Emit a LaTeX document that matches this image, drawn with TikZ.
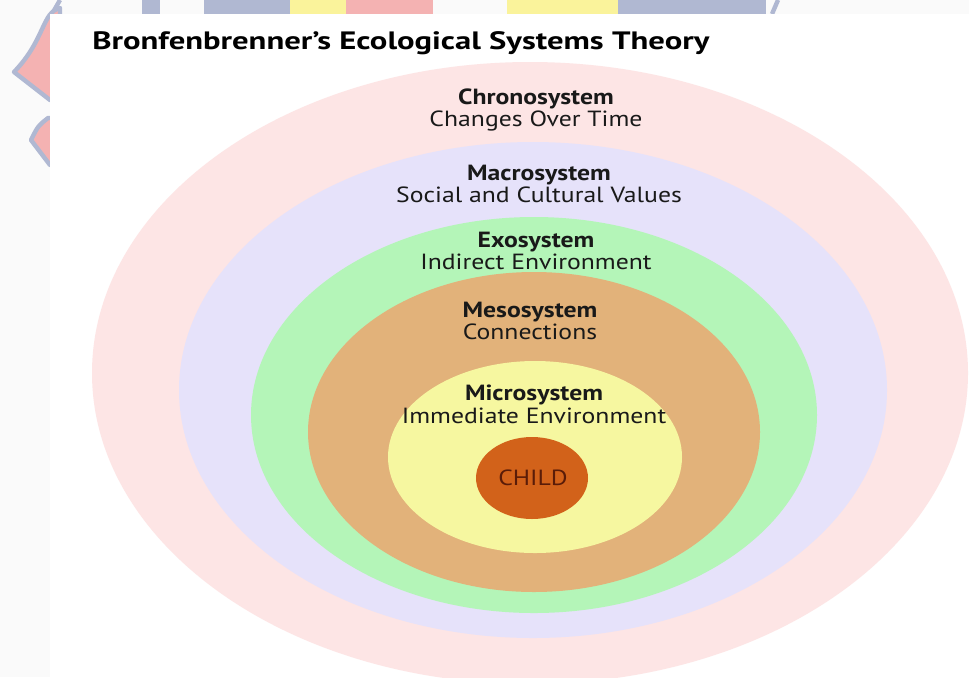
\documentclass[tikz,border=0pt]{standalone}
\usepackage{fontspec}
\setmainfont{PT Sans}[FakeStretch=1.17]
\newfontfamily\titlefont{PT Sans}[FakeStretch=1.3]
\usetikzlibrary{positioning}

\definecolor{chronopink}{RGB}{253,229,229}
\definecolor{macrolilac}{RGB}{230,226,250}
\definecolor{exogreen}{RGB}{180,245,184}
\definecolor{mesotan}{RGB}{226,178,122}
\definecolor{microyellow}{RGB}{246,247,160}
\definecolor{childorange}{RGB}{210,98,26}
\definecolor{childtext}{RGB}{90,28,8}
\definecolor{markgray}{RGB}{176,184,210}
\definecolor{markpink}{RGB}{244,178,178}
\definecolor{markyellow}{RGB}{250,243,155}
\definecolor{pagegray}{RGB}{250,250,250}

\begin{document}
\begin{tikzpicture}[x=0.02cm, y=-0.02cm,
  layer/.style={align=center, inner sep=0pt, text=black!90,
    font=\fontsize{12.5}{13}\selectfont},
  logoblob/.style={fill=markpink, draw=markgray, line width=2.5pt, line join=round}]
  \useasboundingbox (0,0) rectangle (969,677);
  \clip (0,0) rectangle (969,677);
  \fill[pagegray] (0,0) rectangle (969,677);

  % faded logo peeking out behind the sheet
  \fill[markgray] (142,0) rectangle (160,14);
  \fill[markgray] (204,0) rectangle (290,14);
  \fill[markyellow] (290,0) rectangle (346,14);
  \fill[markpink] (346,0) rectangle (433,14);
  \fill[markyellow] (507,0) rectangle (618,14);
  \fill[markgray] (618,0) rectangle (766,14);
  \draw[markgray, line width=2.5pt] (52,14) -- (60,0);
  \draw[markgray, line width=2.5pt] (772,14) -- (778,0);
  \draw[logoblob] (60,8) .. controls (42,12) and (45,40) .. (14,72)
    -- (50,100) -- (60,100) -- cycle;
  \draw[logoblob] (60,118) -- (48,118) .. controls (38,126) .. (31,140)
    -- (50,165) -- (60,165) -- cycle;

  % the sheet
  \fill[white] (50,14) rectangle (969,677);

  % nested systems, outermost first
  \fill[chronopink]  (530,373) ellipse [x radius=438, y radius=311];
  \fill[macrolilac]  (533,390) ellipse [x radius=354, y radius=248];
  \fill[exogreen]    (534,415) ellipse [x radius=283, y radius=198];
  \fill[mesotan]     (534,432) ellipse [x radius=226, y radius=160];
  \fill[microyellow] (535,457) ellipse [x radius=147, y radius=96];
  \fill[childorange] (532,478) ellipse [x radius=56, y radius=41];

  \node[anchor=west, inner sep=0pt, font=\titlefont\fontsize{14.3}{16}\selectfont\bfseries]
    (title) at (92,43) {Bronfenbrenner’s Ecological Systems Theory};

  \node[layer] (chrono) at (536,110) {\textbf{Chronosystem}\\Changes Over Time};
  \node[layer] (macro)  at (539,184) {\textbf{Macrosystem}\\Social and Cultural Values};
  \node[layer] (exo)    at (536,251) {\textbf{Exosystem}\\Indirect Environment};
  \node[layer] (meso)   at (530,321) {\textbf{Mesosystem}\\Connections};
  \node[layer] (micro)  at (534,404) {\textbf{Microsystem}\\Immediate Environment};
  \node[layer, text=childtext, font=\fontsize{12.5}{13}\selectfont] (child) at (533,478) {CHILD};
\end{tikzpicture}
\end{document}
